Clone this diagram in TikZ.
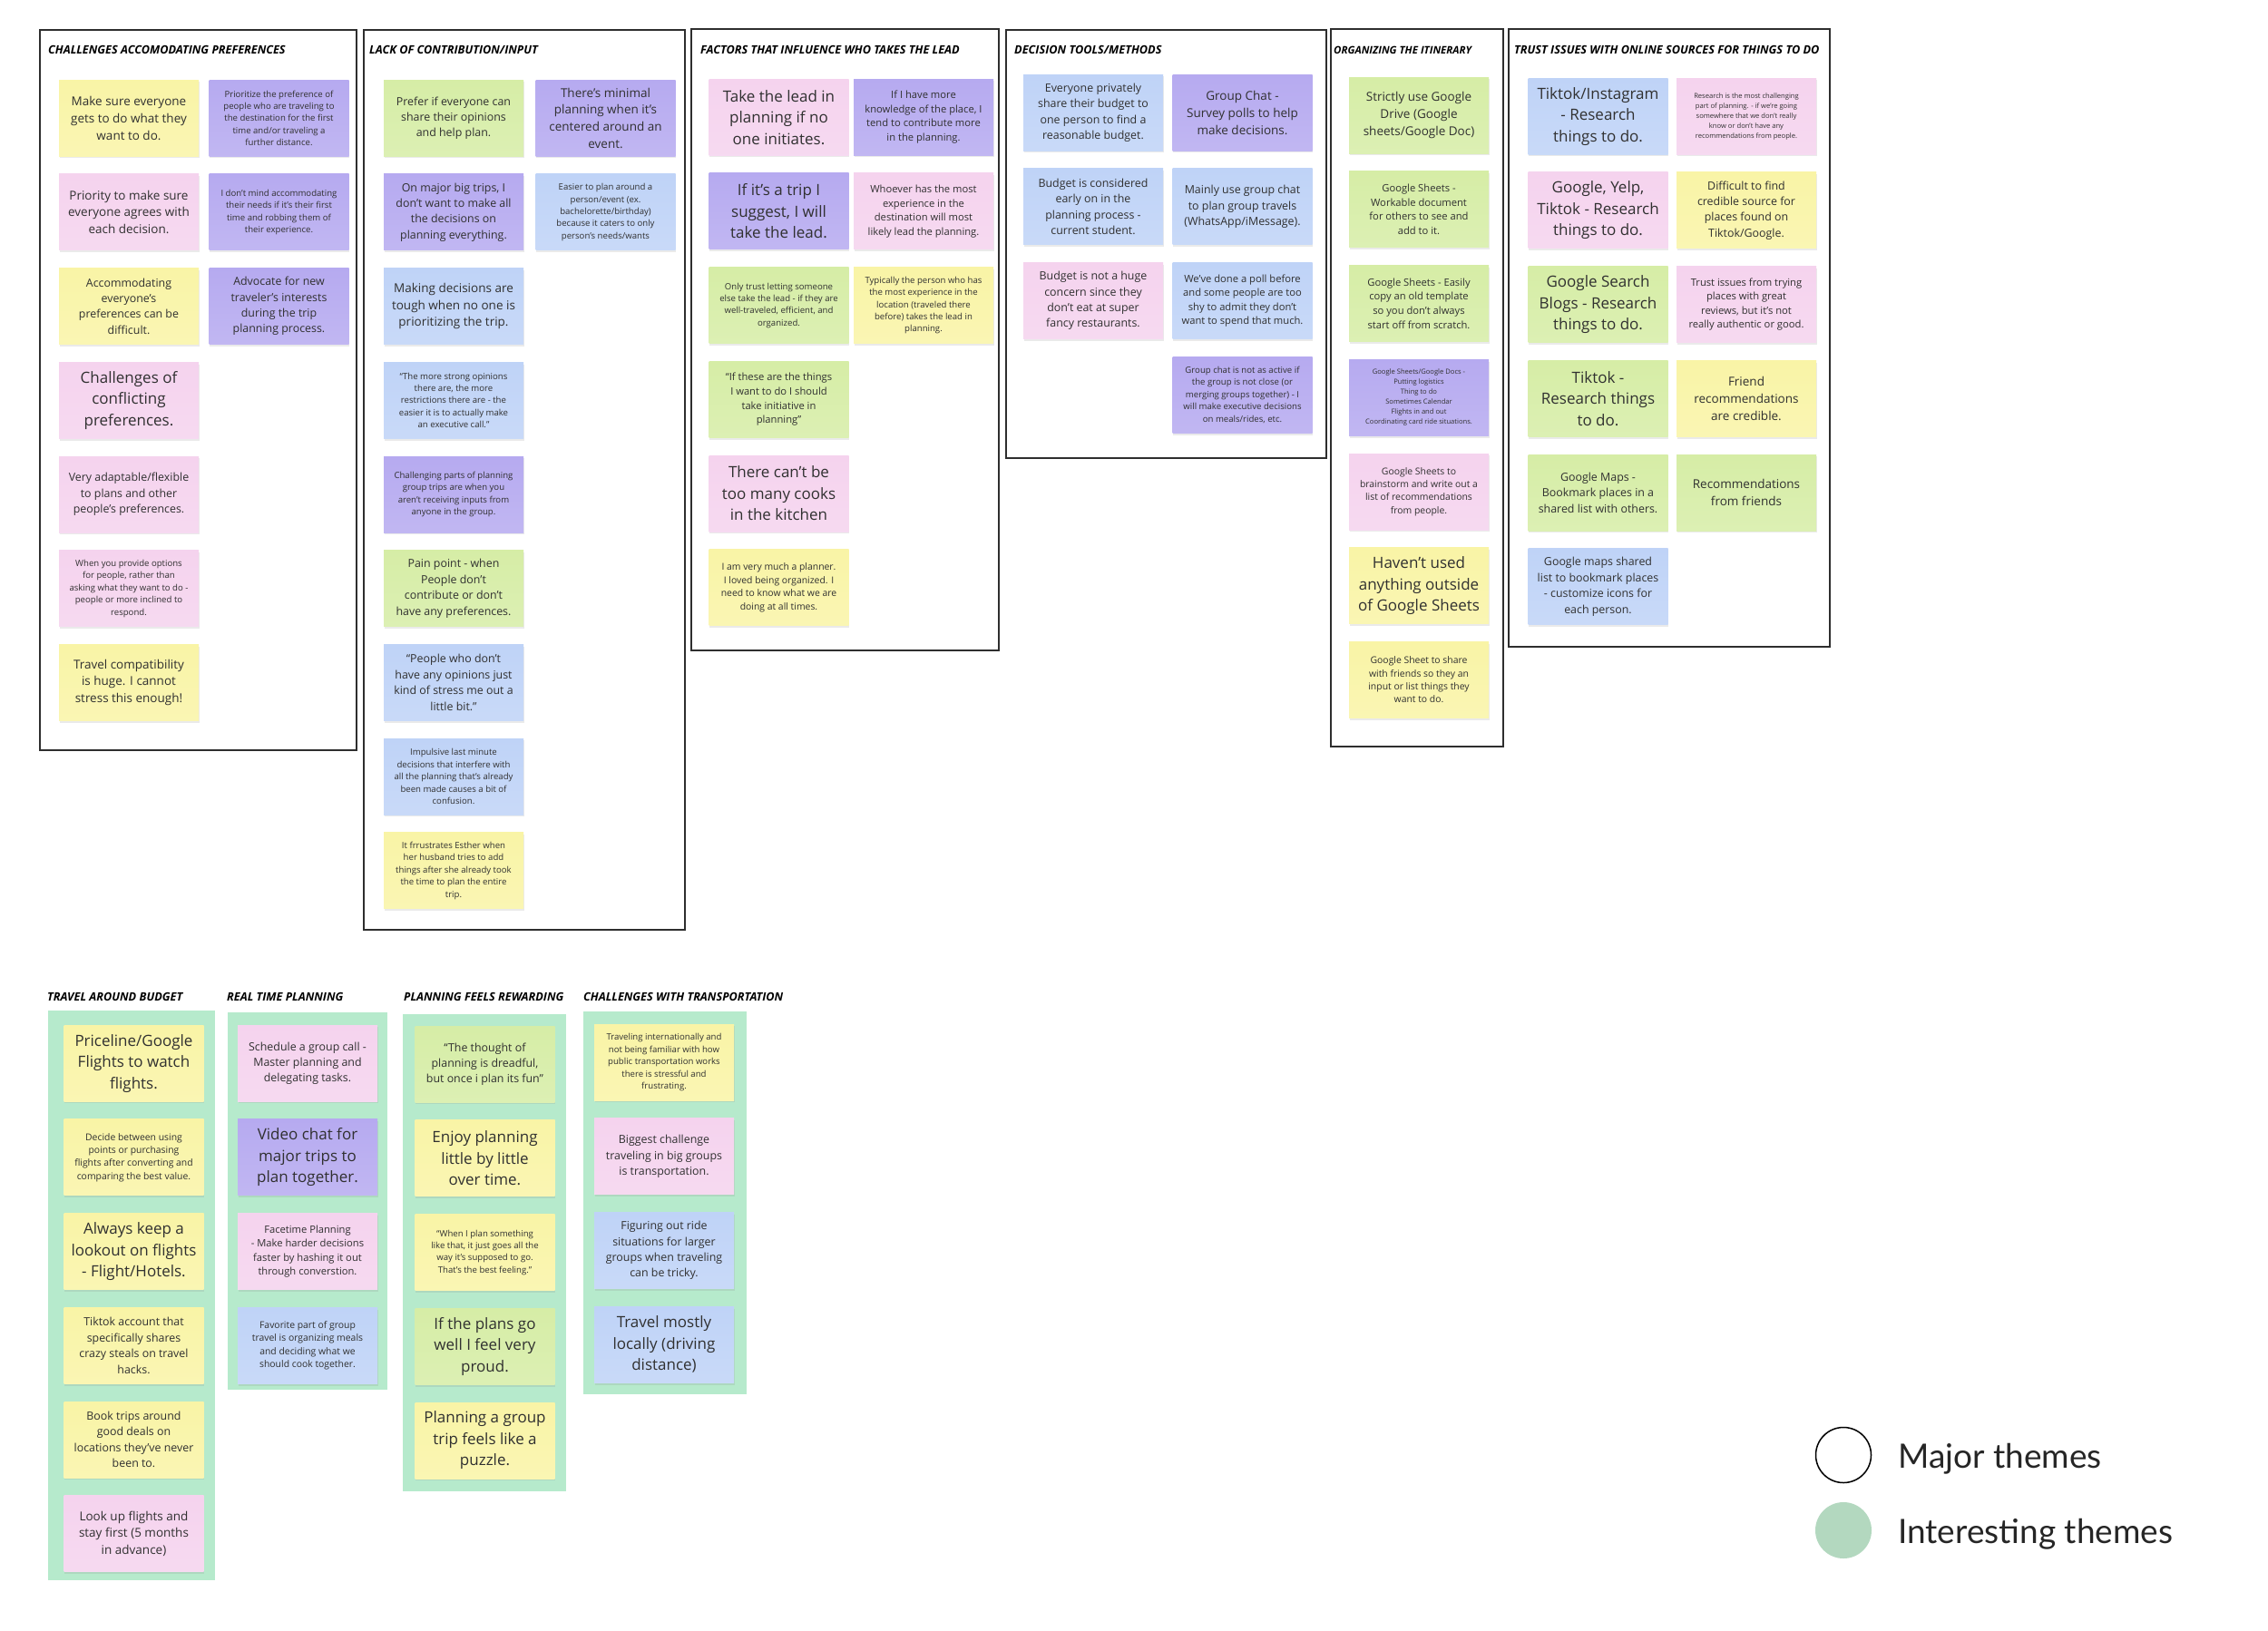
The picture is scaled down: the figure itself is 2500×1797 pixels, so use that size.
\documentclass[tikz,border=0pt]{standalone}
\usepackage{fontspec}
\setmainfont{Open Sans}
\newfontfamily\legendfont{Lato}
\usetikzlibrary{positioning,shadows}

\definecolor{noteYellow}{HTML}{F9F4A6}
\definecolor{notePink}{HTML}{F5D3EE}
\definecolor{notePurple}{HTML}{B6AAF0}
\definecolor{noteBlue}{HTML}{BFD3F7}
\definecolor{noteGreen}{HTML}{D6EDA6}
\definecolor{panelGreen}{HTML}{B6EACC}
\definecolor{legendGreen}{HTML}{B3D8BF}
\definecolor{inkGray}{HTML}{303030}
\definecolor{frameGray}{HTML}{2E2E2E}

\tikzset{
  note/.style={top color=#1, bottom color=#1!85!white, minimum width=154pt, minimum height=84pt,
    inner sep=2pt, align=center, text=inkGray, anchor=north,
    drop shadow={shadow xshift=0.8pt, shadow yshift=-2.2pt, opacity=0.16}},
  txtXL/.style={font=\fontsize{17}{23.5}\selectfont},
  txtL/.style={font=\fontsize{13.5}{18.8}\selectfont},
  txtM/.style={font=\fontsize{12.4}{17.4}\selectfont},
  txtMS/.style={font=\fontsize{11.2}{15.6}\selectfont},
  txtSM/.style={font=\fontsize{10.4}{14.4}\selectfont},
  txtS/.style={font=\fontsize{9.6}{13.4}\selectfont},
  txtXS/.style={font=\fontsize{7.6}{11}\selectfont},
  theme/.style={anchor=west, inner sep=0pt, text=black, font=\fontsize{12.7}{14}\selectfont\bfseries\itshape},
  frame/.style={draw=frameGray, line width=1.6pt},
  legendtext/.style={anchor=base west, inner sep=0pt, text=black!85, font=\legendfont\fontsize{37}{40}\selectfont}
}

\begin{document}
\begin{tikzpicture}[x=1pt, y=-1pt, node distance=19.3pt]
  \fill[white] (0,0) rectangle (2500,1797);
  \useasboundingbox (0,0) rectangle (2500,1797);

  % major theme frames
  \draw[frame] (44,33) rectangle (393,827);
  \draw[frame] (401,33) rectangle (755,1025);
  \draw[frame] (762,32) rectangle (1101,717);
  \draw[frame] (1109,33) rectangle (1462,505);
  \draw[frame] (1467,32) rectangle (1657,823);
  \draw[frame] (1663,32) rectangle (2017,713);

  % interesting theme panels
  \fill[panelGreen] (53,1114) rectangle (237,1742);
  \fill[panelGreen] (251,1116) rectangle (427,1532);
  \fill[panelGreen] (444,1118) rectangle (624,1644);
  \fill[panelGreen] (643,1115) rectangle (823,1537);

  \node[theme] (t1) at (53,55) {CHALLENGES ACCOMODATING PREFERENCES};
  \node[theme] (t2) at (407,55) {LACK OF CONTRIBUTION/INPUT};
  \node[theme] (t3) at (772,55) {FACTORS THAT INFLUENCE WHO TAKES THE LEAD};
  \node[theme] (t4) at (1118,55) {DECISION TOOLS/METHODS};
  \node[theme, font=\fontsize{11.5}{13}\selectfont\bfseries\itshape] (t5) at (1470,55) {ORGANIZING THE ITINERARY};
  \node[theme] (t6) at (1669,55) {TRUST ISSUES WITH ONLINE SOURCES FOR THINGS TO DO};
  \node[theme] (t7) at (52,1099) {TRAVEL AROUND BUDGET};
  \node[theme] (t8) at (250,1099) {REAL TIME PLANNING};
  \node[theme] (t9) at (445,1099) {PLANNING FEELS REWARDING};
  \node[theme] (t10) at (643,1099) {CHALLENGES WITH TRANSPORTATION};

  % challenges accomodating preferences
  \node[note=noteYellow, txtL] (c1a) at (142,88) {Make sure everyone\\gets to do what they\\want to do.};
  \node[note=notePink, txtL, below=of c1a] (c1c) {Priority to make sure\\everyone agrees with\\each decision.};
  \node[note=noteYellow, txtM, below=of c1c] (c1e) {Accommodating\\everyone’s\\preferences can be\\difficult.};
  \node[note=notePink, txtXL, below=of c1e] (c1g) {Challenges of\\conflicting\\preferences.};
  \node[note=notePink, txtM, below=of c1g] (c1h) {Very adaptable/flexible\\to plans and other\\people’s preferences.};
  \node[note=notePink, txtS, below=of c1h] (c1i) {When you provide options\\for people, rather than\\asking what they want to do -\\people or more inclined to\\respond.};
  \node[note=noteYellow, txtL, below=of c1i] (c1j) {Travel compatibility\\is huge. I cannot\\stress this enough!};
  \node[note=notePurple, txtS] (c1b) at (307.5,88) {Prioritize the preference of\\people who are traveling to\\the destination for the first\\time and/or traveling a\\further distance.};
  \node[note=notePurple, txtS, below=of c1b] (c1d) {I don’t mind accommodating\\their needs if it’s their first\\time and robbing them of\\their experience.};
  \node[note=notePurple, txtM, below=of c1d] (c1f) {Advocate for new\\traveler’s interests\\during the trip\\planning process.};

  % lack of contribution
  \node[note=noteGreen, txtM] (c2a) at (500,88) {Prefer if everyone can\\share their opinions\\and help plan.};
  \node[note=notePurple, txtM, below=of c2a] (c2c) {On major big trips, I\\don’t want to make all\\the decisions on\\planning everything.};
  \node[note=noteBlue, txtL, below=of c2c] (c2e) {Making decisions are\\tough when no one is\\prioritizing the trip.};
  \node[note=noteBlue, txtS, below=of c2e] (c2f) {“The more strong opinions\\there are, the more\\restrictions there are - the\\easier it is to actually make\\an executive call.”};
  \node[note=notePurple, txtS, below=of c2f] (c2g) {Challenging parts of planning\\group trips are when you\\aren’t receiving inputs from\\anyone in the group.};
  \node[note=noteGreen, txtM, below=of c2g] (c2h) {Pain point - when\\People don’t\\contribute or don’t\\have any preferences.};
  \node[note=noteBlue, txtM, below=of c2h] (c2i) {“People who don’t\\have any opinions just\\kind of stress me out a\\little bit.”};
  \node[note=noteBlue, txtS, below=of c2i] (c2j) {Impulsive last minute\\decisions that interfere with\\all the planning that’s already\\been made causes a bit of\\confusion.};
  \node[note=noteYellow, txtS, below=of c2j] (c2k) {It frrustrates Esther when\\her husband tries to add\\things after she already took\\the time to plan the entire\\trip.};
  \node[note=notePurple, txtL] (c2b) at (667.5,88) {There’s minimal\\planning when it’s\\centered around an\\event.};
  \node[note=noteBlue, txtS, below=of c2b] (c2d) {Easier to plan around a\\person/event (ex.\\bachelorette/birthday)\\because it caters to only\\person’s needs/wants};

  % who takes the lead
  \node[note=notePink, txtXL] (c3a) at (858.5,87) {Take the lead in\\planning if no\\one initiates.};
  \node[note=notePurple, txtXL, below=of c3a] (c3c) {If it’s a trip I\\suggest, I will\\take the lead.};
  \node[note=noteGreen, txtS, below=of c3c] (c3e) {Only trust letting someone\\else take the lead - if they are\\well-traveled, efficient, and\\organized.};
  \node[note=noteGreen, txtMS, below=of c3e] (c3g) {“If these are the things\\I want to do I should\\take initiative in\\planning”};
  \node[note=notePink, txtXL, below=of c3g] (c3h) {There can’t be\\too many cooks\\in the kitchen};
  \node[note=noteYellow, txtSM, below=of c3h] (c3i) {I am very much a planner.\\I loved being organized. I\\need to know what we are\\doing at all times.};
  \node[note=notePurple, txtMS] (c3b) at (1018,87) {If I have more\\knowledge of the place, I\\tend to contribute more\\in the planning.};
  \node[note=notePink, txtMS, below=of c3b] (c3d) {Whoever has the most\\experience in the\\destination will most\\likely lead the planning.};
  \node[note=noteYellow, txtS, below=of c3d] (c3f) {Typically the person who has\\the most experience in the\\location (traveled there\\before) takes the lead in\\planning.};

  % decision tools
  \node[note=noteBlue, txtM] (c4a) at (1205,82) {Everyone privately\\share their budget to\\one person to find a\\reasonable budget.};
  \node[note=noteBlue, txtM, below=of c4a] (c4c) {Budget is considered\\early on in the\\planning process -\\current student.};
  \node[note=notePink, txtM, below=of c4c] (c4e) {Budget is not a huge\\concern since they\\don’t eat at super\\fancy restaurants.};
  \node[note=notePurple, txtL] (c4b) at (1369.5,82) {Group Chat -\\Survey polls to help\\make decisions.};
  \node[note=noteBlue, txtM, below=of c4b] (c4d) {Mainly use group chat\\to plan group travels\\(WhatsApp/iMessage).};
  \node[note=noteBlue, txtMS, below=of c4d] (c4f) {We’ve done a poll before\\and some people are too\\shy to admit they don’t\\want to spend that much.};
  \node[note=notePurple, txtS, below=of c4f] (c4g) {Group chat is not as active if\\the group is not close (or\\merging groups together) - I\\will make executive decisions\\on meals/rides, etc.};

  % itinerary
  \node[note=noteGreen, txtL] (c5a) at (1564,85) {Strictly use Google\\Drive (Google\\sheets/Google Doc)};
  \node[note=noteGreen, txtMS, below=of c5a] (c5b) {Google Sheets -\\Workable document\\for others to see and\\add to it.};
  \node[note=noteGreen, txtMS, below=of c5b] (c5c) {Google Sheets - Easily\\copy an old template\\so you don’t always\\start off from scratch.};
  \node[note=notePurple, txtXS, below=of c5c] (c5d) {Google Sheets/Google Docs -\\Putting logistics\\Thing to do\\Sometimes Calendar\\Flights in and out\\Coordinating card ride situations.};
  \node[note=notePink, txtSM, below=of c5d] (c5e) {Google Sheets to\\brainstorm and write out a\\list of recommendations\\from people.};
  \node[note=noteYellow, txtXL, below=of c5e] (c5f) {Haven’t used\\anything outside\\of Google Sheets};
  \node[note=noteYellow, txtSM, below=of c5f] (c5g) {Google Sheet to share\\with friends so they an\\input or list things they\\want to do.};

  % online sources
  \node[note=noteBlue, txtXL] (c6a) at (1761.5,86) {Tiktok/Instagram\\- Research\\things to do.};
  \node[note=notePink, txtXL, below=of c6a] (c6c) {Google, Yelp,\\Tiktok - Research\\things to do.};
  \node[note=noteGreen, txtXL, below=of c6c] (c6e) {Google Search\\Blogs - Research\\things to do.};
  \node[note=noteGreen, txtXL, below=of c6e] (c6g) {Tiktok -\\Research things\\to do.};
  \node[note=noteGreen, txtM, below=of c6g] (c6i) {Google Maps -\\Bookmark places in a\\shared list with others.};
  \node[note=noteBlue, txtM, below=of c6i] (c6k) {Google maps shared\\list to bookmark places\\- customize icons for\\each person.};
  \node[note=notePink, txtXS] (c6b) at (1925,86) {Research is the most challenging\\part of planning. - if we’re going\\somewhere that we don’t really\\know or don’t have any\\recommendations from people.};
  \node[note=noteYellow, txtM, below=of c6b] (c6d) {Difficult to find\\credible source for\\places found on\\Tiktok/Google.};
  \node[note=notePink, txtMS, below=of c6d] (c6f) {Trust issues from trying\\places with great\\reviews, but it’s not\\really authentic or good.};
  \node[note=noteYellow, txtL, below=of c6f] (c6h) {Friend\\recommendations\\are credible.};
  \node[note=noteGreen, txtL, below=of c6h] (c6j) {Recommendations\\from friends};

  % travel around budget
  \node[note=noteYellow, txtXL] (b1a) at (147.5,1130) {Priceline/Google\\Flights to watch\\flights.};
  \node[note=noteYellow, txtSM, below=of b1a] (b1b) {Decide between using\\points or purchasing\\flights after converting and\\comparing the best value.};
  \node[note=noteYellow, txtXL, below=of b1b] (b1c) {Always keep a\\lookout on flights\\- Flight/Hotels.};
  \node[note=noteYellow, txtM, below=of b1c] (b1d) {Tiktok account that\\specifically shares\\crazy steals on travel\\hacks.};
  \node[note=noteYellow, txtM, below=of b1d] (b1e) {Book trips around\\good deals on\\locations they’ve never\\been to.};
  \node[note=notePink, txtL, below=of b1e] (b1f) {Look up flights and\\stay first (5 months\\in advance)};

  % real time planning
  \node[note=notePink, txtM] (b2a) at (339,1130) {Schedule a group call -\\Master planning and\\delegating tasks.};
  \node[note=notePurple, txtXL, below=of b2a] (b2b) {Video chat for\\major trips to\\plan together.};
  \node[note=notePink, txtMS, below=of b2b] (b2c) {Facetime Planning\\- Make harder decisions\\faster by hashing it out\\through converstion.};
  \node[note=noteBlue, txtSM, below=of b2c] (b2d) {Favorite part of group\\travel is organizing meals\\and deciding what we\\should cook together.};

  % planning feels rewarding
  \node[note=noteGreen, txtM] (b3a) at (534.5,1131) {“The thought of\\planning is dreadful,\\but once i plan its fun”};
  \node[note=noteYellow, txtXL, below=of b3a] (b3b) {Enjoy planning\\little by little\\over time.};
  \node[note=noteYellow, txtS, below=of b3b] (b3c) {“When I plan something\\like that, it just goes all the\\way it’s supposed to go.\\That’s the best feeling.”};
  \node[note=noteGreen, txtXL, below=of b3c] (b3d) {If the plans go\\well I feel very\\proud.};
  \node[note=noteYellow, txtXL, below=of b3d] (b3e) {Planning a group\\trip feels like a\\puzzle.};

  % transportation
  \node[note=noteYellow, txtS] (b4a) at (732,1129) {Traveling internationally and\\not being familiar with how\\public transportation works\\there is stressful and\\frustrating.};
  \node[note=notePink, txtM, below=of b4a] (b4b) {Biggest challenge\\traveling in big groups\\is transportation.};
  \node[note=noteBlue, txtM, below=of b4b] (b4c) {Figuring out ride\\situations for larger\\groups when traveling\\can be tricky.};
  \node[note=noteBlue, txtXL, below=of b4c] (b4d) {Travel mostly\\locally (driving\\distance)};

  % legend
  \node[circle, draw=black, line width=1.5pt, minimum size=61pt, inner sep=0pt] (lgMajor) at (2032,1604) {};
  \node[circle, fill=legendGreen, minimum size=62pt, inner sep=0pt] (lgInter) at (2032,1687) {};
  \node[legendtext] (lgMajorTxt) at (2092,1618) {Major themes};
  \node[legendtext] (lgInterTxt) at (2092,1701) {Interesting themes};
\end{tikzpicture}
\end{document}
